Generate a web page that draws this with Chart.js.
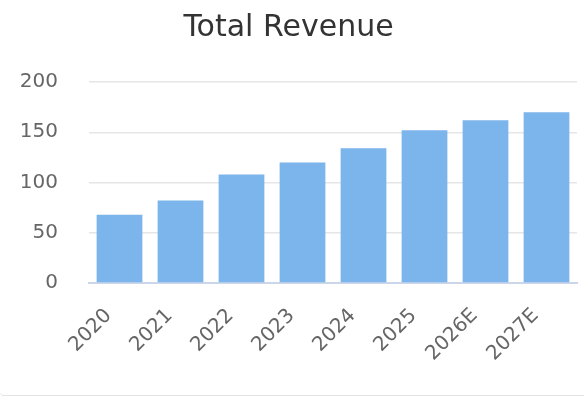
<!DOCTYPE html>
<html>
<head>
<meta charset="utf-8">
<script src="https://cdn.jsdelivr.net/npm/chart.js@4/dist/chart.umd.min.js"></script>
<style>
    body { margin: 0; background: #fff; }
    #card { width: 584px; height: 395px; border-bottom: 1px solid #e3e3e3; border-bottom-left-radius: 4px; }
</style>
</head>
<body>
<div id="card"><canvas id="revenue"></canvas></div>
<script>
    var years = ["2020", "2021", "2022", "2023", "2024", "2025", "2026E", "2027E"];
    var revenue = [68, 82, 108, 120, 134, 152, 162, 170];
    var yTicks = [0, 50, 100, 150, 200];

    var tickFont = { family: "DejaVu Sans", size: 20 };

    new Chart(document.getElementById("revenue"), {
        type: "bar",
        data: {
            labels: years,
            datasets: [
                {
                    label: "Total Revenue",
                    data: revenue,
                    backgroundColor: "#7cb5ec",
                    borderWidth: 0,
                    categoryPercentage: 1,
                    barPercentage: 0.75,
                },
            ],
        },
        options: {
            responsive: true,
            maintainAspectRatio: false,
            animation: false,
            layout: {
                padding: { left: 0, right: 7, top: 0, bottom: 0 },
            },
            plugins: {
                legend: { display: false },
                tooltip: { enabled: false },
                title: {
                    display: true,
                    text: "Total Revenue",
                    color: "#333333",
                    font: { family: "DejaVu Sans", size: 30, weight: "normal" },
                    padding: { top: 10, bottom: 36 },
                },
            },
            scales: {
                x: {
                    grid: { display: false },
                    border: { display: true, color: "#ccd6eb", width: 2 },
                    ticks: {
                        color: "#666666",
                        font: tickFont,
                        maxRotation: 45,
                        minRotation: 45,
                        padding: 13,
                        labelOffset: -11,
                    },
                    afterFit: function (scale) {
                        scale.height = 112;
                    },
                },
                y: {
                    min: 0,
                    max: 200,
                    afterBuildTicks: function (scale) {
                        scale.ticks = yTicks.map(function (v) {
                            return { value: v };
                        });
                    },
                    grid: { color: "#e6e6e6", lineWidth: 1.5, drawTicks: false },
                    border: { display: false },
                    ticks: {
                        color: "#666666",
                        font: tickFont,
                        padding: 31,
                    },
                    afterFit: function (scale) {
                        scale.width = 89;
                    },
                },
            },
        },
    });
</script>
</body>
</html>
